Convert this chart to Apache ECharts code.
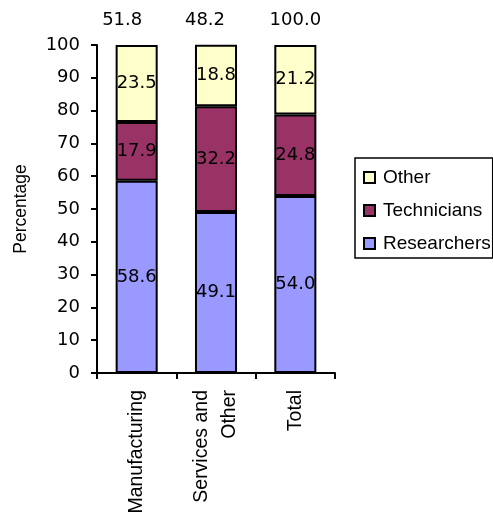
<!DOCTYPE html>
<html><head><meta charset="utf-8">
<script src="https://cdn.jsdelivr.net/npm/echarts@6/dist/echarts.min.js"></script>
<style>html,body{margin:0;padding:0;background:#fff}#c{width:493px;height:512px}</style>
</head><body><div id="c"></div>
<script>
const categories = ['Manufacturing', 'Services and\nOther', 'Total'];
const topLabels = ['51.8', '48.2', '100.0'];
const researchers = [58.6, 49.1, 54.0];
const technicians = [17.9, 32.2, 24.8];
const other = [23.5, 18.8, 21.2];
const yTicks = [0, 10, 20, 30, 40, 50, 60, 70, 80, 90, 100];

const NUMF = 'DejaVu Sans';
const TXTF = 'Liberation Sans';
const chart = echarts.init(document.getElementById('c'), null, {renderer: 'canvas'});
const lbl = {show: true, position: 'inside', color: '#000', fontFamily: NUMF, fontSize: 18, formatter: p => p.value.toFixed(1)};
const mk = (name, data, color) => ({
  name, type: 'bar', stack: 's', data, barWidth: '53%',
  itemStyle: {color, borderColor: '#000', borderWidth: 2},
  label: lbl, emphasis: {disabled: true}
});
const topShift = [29, 22, 0];
chart.setOption({
  animation: false,
  grid: {left: 97, right: 158, top: 45, bottom: 139, containLabel: false, outerBoundsMode: 'none'},
  legend: {
    orient: 'vertical', left: 355, top: 158, data: ['Other', 'Technicians', 'Researchers'],
    itemWidth: 11, itemHeight: 11, itemGap: 14, padding: [10, 2, 5, 8],
    borderColor: '#000', borderWidth: 1.5, icon: 'rect',
    textStyle: {fontFamily: TXTF, fontSize: 19, color: '#000', padding: [0, 0, 0, 3]},
    itemStyle: {borderColor: '#000', borderWidth: 2}
  },
  xAxis: [{
    type: 'category', data: categories, position: 'bottom',
    axisLine: {lineStyle: {color: '#000', width: 2}},
    axisTick: {show: true, length: 6, lineStyle: {color: '#000', width: 2}},
    axisLabel: {rotate: 90, color: '#000', fontFamily: TXTF, fontSize: 19.5, margin: 17, lineHeight: 28}
  }, {
    type: 'category', position: 'top',
    data: topLabels.map((v, i) => ({value: v, textStyle: {padding: [0, topShift[i], 0, 0]}})),
    axisLine: {show: false}, axisTick: {show: false},
    axisLabel: {color: '#000', fontFamily: NUMF, fontSize: 18, margin: 16}
  }],
  yAxis: {
    type: 'value', min: yTicks[0], max: yTicks[yTicks.length - 1], interval: 10,
    name: 'Percentage', nameLocation: 'middle', nameGap: 67, nameRotate: 90,
    nameTextStyle: {color: '#000', fontFamily: TXTF, fontSize: 17.5},
    axisLine: {show: true, lineStyle: {color: '#000', width: 2}},
    axisTick: {show: true, length: 6, lineStyle: {color: '#000', width: 2}},
    axisLabel: {color: '#000', fontFamily: NUMF, fontSize: 18, margin: 17},
    splitLine: {show: false}
  },
  series: [
    mk('Researchers', researchers, '#9999FF'),
    mk('Technicians', technicians, '#993366'),
    mk('Other', other, '#FFFFCC')
  ]
});
</script></body></html>
